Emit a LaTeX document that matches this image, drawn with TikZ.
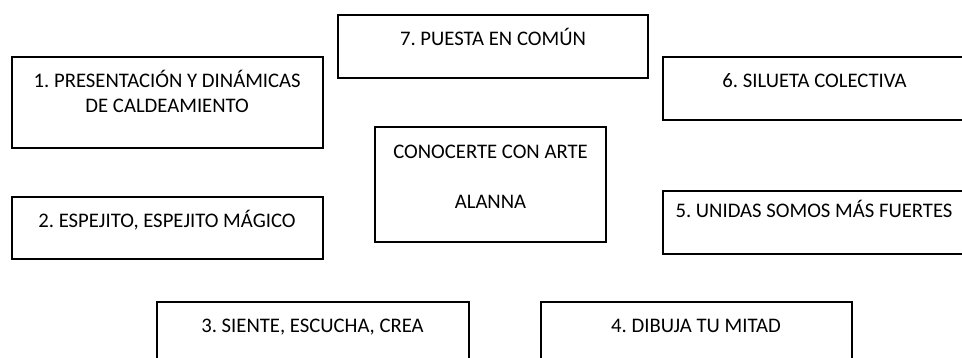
\documentclass[tikz,border=0pt]{standalone}
\usepackage{fontspec}
\setmainfont{Carlito}
\frenchspacing
\begin{document}
\begin{tikzpicture}[x=5pt,y=-5pt,
  stagebox/.style={draw,line width=1pt},
  stagetext/.style={anchor=base,inner sep=0pt,font=\fontsize{10.35}{12.6}\selectfont}]
  \useasboundingbox (0,0) rectangle (96.2,35.8);

  % draw boxes
  \draw[stagebox] ( 1.2, 5.7) rectangle (32.3,14.8);
  \draw[stagebox] (33.8, 1.5) rectangle (64.8, 7.8);
  \draw[stagebox] (66.3, 5.7) rectangle (96.6,12.0);
  \draw[stagebox] (37.5,12.7) rectangle (60.6,24.2);
  \draw[stagebox] ( 1.2,19.7) rectangle (32.3,25.9);
  \draw[stagebox] (66.3,19.1) rectangle (96.6,25.4);
  \draw[stagebox] (15.7,30.2) rectangle (46.9,36.6);
  \draw[stagebox] (54.1,30.2) rectangle (85.2,36.6);

  % draw texts
  % centre
  \node[stagetext] (conocerte) at (49.05,15.8) {CONOCERTE CON ARTE};
  \node[stagetext] (alanna)    at (49.05,20.85) {ALANNA};
  % left
  \node[stagetext] (presentacion) at (16.72, 8.77) {1. PRESENTACIÓN Y DINÁMICAS};
  \node[stagetext] (caldeamiento) at (16.72,11.27) {DE CALDEAMIENTO};
  \node[stagetext] (espejito)     at (16.7,22.77) {2. ESPEJITO, ESPEJITO MÁGICO};
  % bottom
  \node[stagetext] (siente) at (31.25,33.27) {3. SIENTE, ESCUCHA, CREA};
  \node[stagetext] (dibuja) at (69.6,33.27) {4. DIBUJA TU MITAD};
  % right
  \node[stagetext] (unidas)  at (81.4,21.75) {5. UNIDAS SOMOS MÁS FUERTES};
  \node[stagetext] (silueta) at (81.45,8.77) {6. SILUETA COLECTIVA};
  % top
  \node[stagetext] (puesta) at (49.3,4.55) {7. PUESTA EN COMÚN};
\end{tikzpicture}
\end{document}
